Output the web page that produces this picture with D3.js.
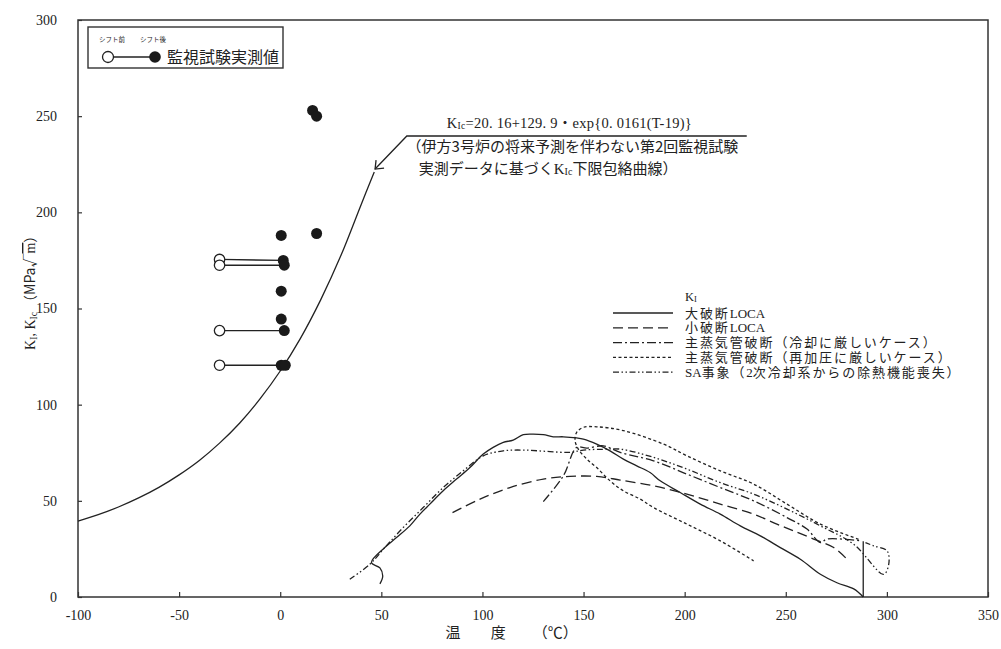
<!DOCTYPE html>
<html><head><meta charset="utf-8">
<script src="https://cdn.jsdelivr.net/npm/d3@7"></script>
<style>
html,body{margin:0;padding:0;background:#fff;}
svg{display:block;}
text{font-family:"Liberation Serif","Noto Sans CJK JP",serif;fill:#222;}
.jp{font-family:"Noto Sans CJK JP","Liberation Serif",sans-serif;}
</style></head><body>
<svg id="chart" width="1001" height="649"></svg>
<script>
// ---------- data ----------
const xTicks = [-100,-50,0,50,100,150,200,250,300,350];
const yTicks = [0,50,100,150,200,250,300];

// KIc lower bound curve
const kicCurve = [[-100,39.5],[-90,42.8],[-80,46.8],[-70,51.5],[-60,57],[-50,63.5],[-40,71],[-30,80],[-20,90.5],[-10,103],[0,117.5],[10,134.5],[20,154.5],[30,177.5],[40,204],[46.5,221]];

// KI transients
const largeLOCA = [[49.3,6.8],[50.7,10.9],[49.3,15.1],[45.1,17.9],[51.7,25.7],[57.5,30.9],[64.1,37.0],[69.1,43.1],[74.0,48.3],[80.6,55.2],[87.2,61.3],[93.8,67.3],[100.4,74.3],[105.3,77.8],[110.3,80.4],[115.2,81.6],[120.2,84.4],[125.1,84.7],[130.1,84.4],[135.0,83.3],[140.0,83.3],[146.6,82.7],[149.9,82.1],[156.5,79.5],[163.1,76.0],[169.7,71.7],[176.3,68.2],[182.9,64.7],[187.9,60.4],[197.8,54.3],[207.7,48.3],[217.6,43.1],[227.5,37.0],[237.4,31.8],[247.3,25.7],[257.2,19.6],[267.1,11.8],[275.3,7.4],[283.6,4.2],[288.3,0]];
const largeLOCAEnd = [[288.3,0],[288.3,29]];
const smallLOCA = [[85.2,43.9],[98.8,50.9],[113.6,56.9],[130.1,61.3],[143.3,62.7],[156.5,62.7],[168.1,60.8],[184.6,57.8],[201.1,53.5],[217.6,48.3],[234.1,43.1],[245.6,37.9],[253.9,34.4],[263.8,30.1],[273.7,25.7],[280.3,19.6]];
const mslbCooling = [[130.1,49.6],[140,63],[146.6,77.8],[151.6,77.4],[159.8,78.6],[168.1,75.2],[184.6,70.8],[201.1,63.9],[217.6,56.9],[234.1,50.0],[250.6,41.3],[260.5,35.3],[267.1,28.3],[270.4,30.1],[287,29.2]];
const mslbRepress = [[286,30],[267.1,37.9],[250.6,48.3],[234.1,58.7],[217.6,65.6],[201.1,73.4],[189.5,79.5],[169.7,86.5],[156.5,88.5],[149.9,88.2],[146.6,85.6],[145.8,81.3],[147.4,76.9],[151.6,71.7],[156.5,67.3],[163.1,60.4],[169.7,55.2],[178,50.9],[184.6,46.5],[201.1,37.9],[217.6,29.2],[234.1,18.8]];
const saEvent = [[34.4,9.2],[44.3,17],[51.7,25.7],[60.8,36.1],[70.7,46.5],[80.6,56.9],[90.5,65.6],[100.4,73.4],[110.3,76.0],[120.2,76.4],[131.8,75.7],[143.3,75.2],[149.9,76.4],[159.8,76.8],[168.1,76.9],[184.6,72.6],[201.1,66.5],[217.6,59.5],[234.1,53.5],[250.6,45.7],[267.1,37.0],[283.6,27.4],[298.4,11.8],[300.9,17],[300.1,24],[293.4,26.6],[289.4,28.3]];

// surveillance test data
const shiftBefore = [[-30,175.5],[-30,172.5],[-30,138.5],[-30,120.5]];
const shiftAfter  = [[1.5,175],[2,172.5],[2,138.5],[1,120.5]];
const measured = [[16,253],[18,250],[0.5,188],[18,189],[1.5,175],[2,172.5],[0.5,159],[0.5,144.5],[2,138.5],[0.5,120.5],[2.5,120.5]];

const legendItems = ["大破断LOCA","小破断LOCA","主蒸気管破断（冷却に厳しいケース）","主蒸気管破断（再加圧に厳しいケース）","SA事象（2次冷却系からの除熱機能喪失）"];

// ---------- drawing ----------
const svg = d3.select("#chart");
const x = d3.scaleLinear().domain([-100,350]).range([78,988]);
const y = d3.scaleLinear().domain([0,300]).range([597,20]);
const ink = "#222";

// frame
svg.append("rect").attr("x",x(-100)).attr("y",y(300)).attr("width",x(350)-x(-100)).attr("height",y(0)-y(300))
  .attr("fill","none").attr("stroke","#333").attr("stroke-width",1.5);

// ticks
const xAxis = d3.axisBottom(x).tickValues(xTicks).tickSizeInner(-5).tickSizeOuter(0).tickPadding(13).tickFormat(d=>d);
const gx = svg.append("g").attr("transform",`translate(0,${y(0)})`).call(xAxis);
gx.select(".domain").remove();
gx.selectAll("line").attr("stroke","#333").attr("stroke-width",1.2);
gx.selectAll("text").attr("font-size",14).attr("fill",ink).style("font-family","Liberation Serif");

const yAxis = d3.axisLeft(y).tickValues(yTicks).tickSizeInner(-4).tickSizeOuter(0).tickPadding(21).tickFormat(d=>d);
const gy = svg.append("g").attr("transform",`translate(${x(-100)},0)`).call(yAxis);
gy.select(".domain").remove();
gy.selectAll("line").attr("stroke","#333").attr("stroke-width",1.2);
gy.selectAll("text").attr("font-size",14).attr("fill",ink).style("font-family","Liberation Serif");

// axis titles
const xt = svg.append("text").attr("class","jp").attr("y",638).attr("text-anchor","middle").attr("font-size",15).attr("fill",ink);
xt.append("tspan").attr("x",x(85.5)).text("温");
xt.append("tspan").attr("x",x(107.8)).text("度");
xt.append("tspan").attr("x",x(136)).text("（℃）");
const yt = svg.append("text").attr("transform",`translate(35,${y(160)}) rotate(-90)`).attr("text-anchor","middle").attr("font-size",14).attr("fill",ink);
yt.append("tspan").text("K");
yt.append("tspan").attr("font-size",9.5).attr("dy",2).text("I");
yt.append("tspan").attr("dy",-2).text(",  K");
yt.append("tspan").attr("font-size",9.5).attr("dy",2).text("Ic");
yt.append("tspan").attr("dy",-2).attr("class","jp").text(" （MPa√");
yt.append("tspan").style("text-decoration","overline").text("m");
yt.append("tspan").attr("class","jp").text("）");

// curves
const line = d3.line().x(d=>x(d[0])).y(d=>y(d[1])).curve(d3.curveCatmullRom.alpha(0.5));
const lineLin = d3.line().x(d=>x(d[0])).y(d=>y(d[1]));
function drawCurve(data, dash, gen){
  svg.append("path").attr("d",(gen||line)(data)).attr("fill","none").attr("stroke",ink).attr("stroke-width",1.3)
    .attr("stroke-dasharray",dash||null).attr("stroke-linejoin","round");
}
drawCurve(kicCurve, null);
drawCurve(largeLOCA, null);
drawCurve(largeLOCAEnd, null, lineLin);
drawCurve(smallLOCA, "10,5");
drawCurve(mslbCooling, "9,3,2,3");
drawCurve(mslbRepress, "3,2.5");
drawCurve(saEvent, "6,2.5,1.5,2.5,1.5,2.5");

// annotation leader
const leader = [[46.9,222.5],[62.6,239.7],[230.7,239.7]];
svg.append("path").attr("d",lineLin(leader)).attr("fill","none").attr("stroke",ink).attr("stroke-width",1.3);
{
  const tx=x(leader[0][0]), ty=y(leader[0][1]);
  svg.append("path").attr("d",`M${tx+1},${ty-9} L${tx},${ty} L${tx+9},${ty-1}`).attr("fill","none").attr("stroke",ink).attr("stroke-width",1.3);
}
const f = svg.append("text").attr("x",x(143)).attr("y",y(239.7)-8).attr("text-anchor","middle").attr("font-size",14.5).attr("letter-spacing",0.25).attr("fill",ink);
f.append("tspan").text("K");
f.append("tspan").attr("font-size",9.5).attr("dy",1).text("Ic");
f.append("tspan").attr("dy",-1).text("=20. 16+129. 9・exp{0. 0161(T-19)}");
svg.append("text").attr("class","jp").attr("x",x(62.5)).attr("y",y(239.7)+16).attr("font-size",15).attr("fill",ink)
  .text("（伊方3号炉の将来予測を伴わない第2回監視試験");
const l3 = svg.append("text").attr("class","jp").attr("x",x(68.5)).attr("y",y(239.7)+38).attr("font-size",15).attr("fill",ink);
l3.append("tspan").text("実測データに基づく");
l3.append("tspan").style("font-family","Liberation Serif").text("K");
l3.append("tspan").style("font-family","Liberation Serif").attr("font-size",10).attr("dy",1).text("Ic");
l3.append("tspan").attr("dy",-1).text("下限包絡曲線）");

// measurement connectors
shiftBefore.forEach((d,i)=>{
  svg.append("line").attr("x1",x(d[0])).attr("y1",y(d[1])).attr("x2",x(shiftAfter[i][0])).attr("y2",y(shiftAfter[i][1]))
    .attr("stroke",ink).attr("stroke-width",1.3);
});
svg.selectAll("circle.open").data(shiftBefore).join("circle").attr("class","open")
  .attr("cx",d=>x(d[0])).attr("cy",d=>y(d[1])).attr("r",5.2).attr("fill","#fff").attr("stroke",ink).attr("stroke-width",1.3);
svg.selectAll("circle.fill").data(measured).join("circle").attr("class","fill")
  .attr("cx",d=>x(d[0])).attr("cy",d=>y(d[1])).attr("r",5.5).attr("fill","#1a1a1a");

// top-left legend box
svg.append("rect").attr("x",88).attr("y",27).attr("width",195).attr("height",41).attr("fill","#fff").attr("stroke","#333").attr("stroke-width",1.4);
svg.append("text").attr("class","jp").attr("x",112).attr("y",42).attr("text-anchor","middle").attr("font-size",6.5).attr("fill",ink).text("シフト前");
svg.append("text").attr("class","jp").attr("x",153).attr("y",42).attr("text-anchor","middle").attr("font-size",6.5).attr("fill",ink).text("シフト後");
svg.append("line").attr("x1",108).attr("y1",57).attr("x2",155).attr("y2",57).attr("stroke",ink).attr("stroke-width",1.3);
svg.append("circle").attr("cx",108).attr("cy",57).attr("r",5.5).attr("fill","#fff").attr("stroke",ink).attr("stroke-width",1.3);
svg.append("circle").attr("cx",155).attr("cy",57).attr("r",5.8).attr("fill","#1a1a1a");
svg.append("text").attr("class","jp").attr("x",167).attr("y",62.5).attr("font-size",16).attr("fill",ink).text("監視試験実測値");

// right legend
const lg = svg.append("g").attr("transform","translate(613,298)");
const k1 = lg.append("text").attr("x",72).attr("y",3).attr("font-size",12.5).attr("fill",ink);
k1.append("tspan").text("K");
k1.append("tspan").attr("font-size",8.5).attr("dy",1).text("I");
const dashes = [null,"10,5","9,3,2,3","3,2.5","6,2.5,1.5,2.5,1.5,2.5"];
legendItems.forEach((t,i)=>{
  const yy = 15 + i*14.8;
  lg.append("line").attr("x1",0).attr("x2",60).attr("y1",yy).attr("y2",yy).attr("stroke",ink).attr("stroke-width",1.3).attr("stroke-dasharray",dashes[i]);
  const tx = lg.append("text").attr("x",72).attr("y",yy+4.5).attr("font-size",13).attr("fill",ink);
  t.split(/([A-Za-z0-9]+)/).filter(s=>s.length).forEach(s=>{
    const latin = /^[A-Za-z0-9]+$/.test(s);
    tx.append("tspan").attr("letter-spacing",latin?0:1.9).text(s);
  });
});
</script>
</body></html>
